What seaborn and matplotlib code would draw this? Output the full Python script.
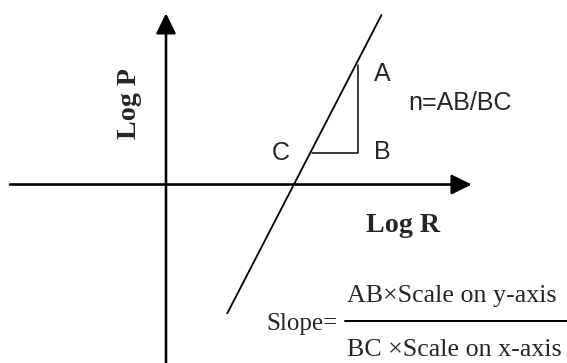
import matplotlib
matplotlib.use("Agg")
import matplotlib.pyplot as plt
import seaborn as sns
import pandas as pd

# Straight-line fit of log P against log R (end points of the drawn line)
log_r = [1.226, 4.31]
log_p = [-2.576, 3.39]

# Slope triangle C -> B -> A
tri_x = [2.914, 3.846, 3.846]
tri_y = [0.636, 0.636, 2.39]
tri_names = ["C", "B", "A"]

# Axis extents
x_axis = [-3.12, 6.114]
y_axis = [-3.8, 3.424]

sns.set_theme(style="white")
plt.rcParams["font.family"] = ["Liberation Sans", "DejaVu Sans"]

fig = plt.figure(figsize=(567 / 72, 363 / 72), dpi=72)
ax = fig.add_axes([0, 0, 1, 1])
ax.set_xlim(-3.32, 8.02)
ax.set_ylim(-3.57, 3.69)
ax.set_axis_off()


def to_data(px, py):
    """Convert a pixel position on the canvas to diagram units."""
    return (px - 166) / 50, (184.5 - py) / 50


arrow = dict(arrowstyle="-|>,head_length=0.85,head_width=0.42",
             mutation_scale=20, color="black", lw=2.6,
             shrinkA=0, shrinkB=0)
# Horizontal (log R) and vertical (log P) axes with arrow heads
ax.annotate("", xy=(x_axis[1], 0), xytext=(x_axis[0], 0), arrowprops=arrow)
ax.annotate("", xy=(0, y_axis[1]), xytext=(0, y_axis[0]), arrowprops=arrow)

line_df = pd.DataFrame({"log_r": log_r, "log_p": log_p})
sns.lineplot(data=line_df, x="log_r", y="log_p", ax=ax, color="black",
             lw=1.8, sort=False, estimator=None)

tri_df = pd.DataFrame({"x": tri_x, "y": tri_y})
sns.lineplot(data=tri_df, x="x", y="y", ax=ax, color="black",
             lw=1.5, sort=False, estimator=None)
ax.set_xlabel("")
ax.set_ylabel("")

# Vertex labels
label_pos = {"A": (4.32, 2.076), "B": (4.32, 0.504), "C": (2.3, 0.49)}
for name in tri_names:
    lx, ly = label_pos[name]
    ax.text(lx, ly, name, fontsize=25, ha="center", va="baseline",
            family="Liberation Sans")
ax.text(5.874, 1.49, "n=AB/BC", fontsize=25, ha="center", va="baseline",
        family="Liberation Sans")

# Axis titles
ax.text(4.0, -0.944, "Log R", fontsize=28, fontweight="bold",
        family="Liberation Serif", ha="left", va="baseline")
ax.text(-0.606, 1.61, "Log P", fontsize=28, fontweight="bold",
        family="Liberation Serif", rotation=90, rotation_mode="anchor",
        ha="center", va="baseline")

# Slope formula
sx, sy = to_data(266.7, 330)
ax.text(sx, sy, "Slope=", fontsize=25, family="Liberation Serif",
        ha="left", va="baseline")
nx, ny = to_data(347.3, 302)
ax.text(nx, ny, "AB\u00d7Scale on y-axis", fontsize=26,
        family="Liberation Serif", ha="left", va="baseline")
dx, dy = to_data(347.3, 356)
ax.text(dx, dy, "BC \u00d7Scale on x-axis", fontsize=26,
        family="Liberation Serif", ha="left", va="baseline")
fx0, fy = to_data(345, 320.7)
fx1, _ = to_data(570, 320.7)
ax.plot([fx0, fx1], [fy, fy], color="black", lw=2)

fig.savefig("out.png", dpi=72)
